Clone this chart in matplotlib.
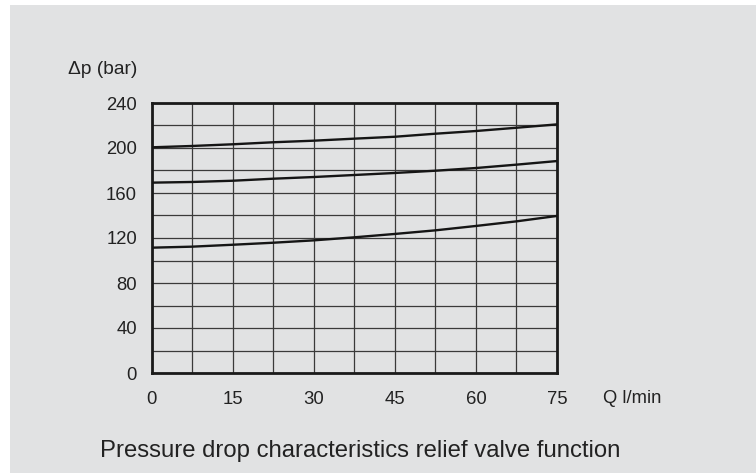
import numpy as np
import matplotlib
matplotlib.use("Agg")
import matplotlib.pyplot as plt
from matplotlib.patches import Rectangle

# flow (l/min) and pressure drop (bar)
flow = [0, 7.5, 15, 22.5, 30, 37.5, 45, 52.5, 60, 67.5, 75]
dp_high = [200.6, 201.8, 203.3, 205.1, 206.5, 208.3, 210.0, 212.7, 215.1, 218.0, 221.0]
dp_mid = [169.2, 169.8, 170.9, 172.7, 174.2, 176.0, 177.8, 179.8, 182.2, 185.2, 188.4]
dp_low = [111.4, 112.3, 114.0, 115.8, 117.9, 120.6, 123.6, 126.8, 130.7, 134.8, 139.6]

x_ticks = [0, 15, 30, 45, 60, 75]
y_ticks = [0, 40, 80, 120, 160, 200, 240]

W, H = 756, 473
bg = "#e1e2e3"
txt = "#222222"

plt.rcParams['font.family'] = ['Liberation Sans', 'DejaVu Sans']

fig = plt.figure(figsize=(W / 100, H / 100), dpi=100, facecolor="white")
# grey panel behind everything
panel = Rectangle((10 / W, 0), 1 - 10 / W, 1 - 5 / H,
                  transform=fig.transFigure, facecolor=bg,
                  edgecolor="none", zorder=-10)
fig.add_artist(panel)

ax = fig.add_axes([151.5 / W, (H - 373) / H, 405.5 / W, 270 / H])
ax.set_facecolor(bg)

for y in [dp_high, dp_mid, dp_low]:
    ax.plot(flow, y, color="#151515", lw=1.7, solid_capstyle="butt", zorder=3)

ax.set_xlim(0, 75)
ax.set_ylim(0, 240)
ax.set_xticks(np.arange(0, 75.01, 7.5), minor=True)
ax.set_yticks(np.arange(0, 240.01, 20), minor=True)
ax.set_xticks(x_ticks)
ax.set_yticks(y_ticks)
ax.grid(True, which="both", color="#3a3a3a", lw=0.9)
ax.tick_params(which="both", length=0)
ax.tick_params(axis="y", pad=10.5, labelsize=13.3, labelcolor=txt)
ax.tick_params(axis="x", pad=13, labelsize=13.3, labelcolor=txt)
for s in ax.spines.values():
    s.set_linewidth(2)
    s.set_color("#1a1a1a")

fig.text(137 / W, 1 - 74.5 / H, "\u0394p (bar)", ha="right", va="baseline",
         fontsize=13.8, color=txt)
fig.text(603 / W, 1 - 398 / H, "Q l/min", ha="left", va="center",
         fontsize=13.2, color=txt)
fig.text(100 / W, 1 - 457 / H, "Pressure drop characteristics relief valve function",
         ha="left", va="baseline", fontsize=17.2, color=txt)

fig.savefig("out.png", dpi=100, facecolor="white")
